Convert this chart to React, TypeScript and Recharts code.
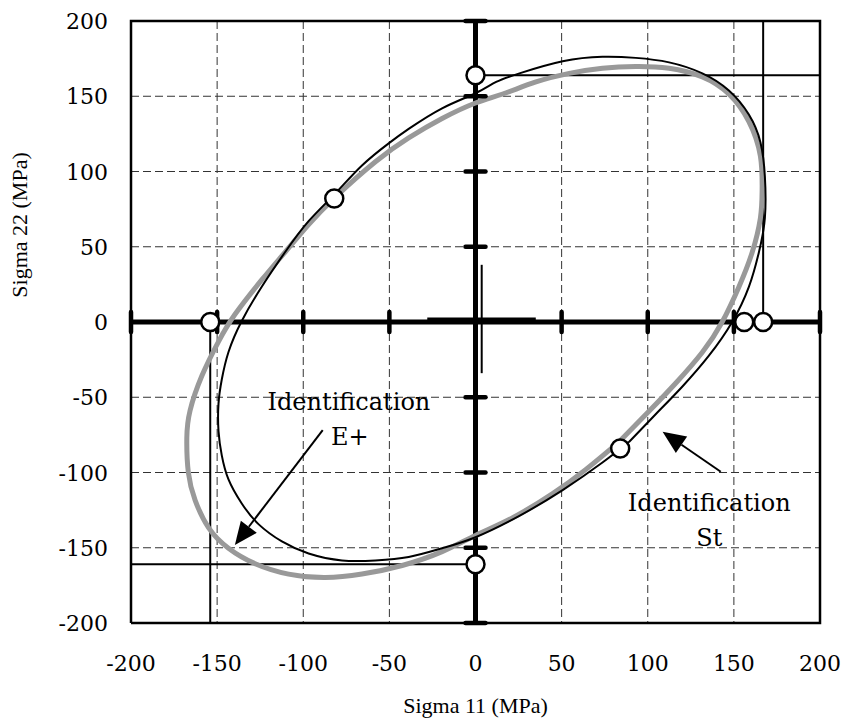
import React from 'react';
import { ComposedChart, Line, Scatter, XAxis, YAxis, CartesianGrid, ReferenceLine } from 'recharts';

const ticks = [-200, -150, -100, -50, 0, 50, 100, 150, 200];

// Identification St (black thin curve)
const stCurve = [
  { x: 89.2, y: -79.6 }, { x: 73.7, y: -93.4 }, { x: 50.6, y: -111.7 }, { x: 25.5, y: -128.8 },
  { x: 0, y: -143 }, { x: -19.4, y: -150.3 }, { x: -38.8, y: -156.1 }, { x: -58.1, y: -158.4 },
  { x: -77.5, y: -158.4 }, { x: -96.9, y: -153.8 }, { x: -112.4, y: -145.8 }, { x: -126, y: -134.3 },
  { x: -135.7, y: -120.6 }, { x: -143.4, y: -104.6 }, { x: -147.3, y: -88.6 }, { x: -149.2, y: -72.5 },
  { x: -149.2, y: -54.2 }, { x: -147.3, y: -38.2 }, { x: -143.4, y: -19.9 }, { x: -135.7, y: 0.7 },
  { x: -124, y: 23.6 }, { x: -110.5, y: 46.5 }, { x: -96.9, y: 67 }, { x: -81.4, y: 85.4 },
  { x: -65.9, y: 104 }, { x: -50.4, y: 118.7 }, { x: -38.8, y: 128.3 }, { x: -19.4, y: 142 },
  { x: 0, y: 152 }, { x: 12, y: 159.5 }, { x: 25.5, y: 165.2 }, { x: 50.6, y: 173.2 },
  { x: 73.7, y: 176.2 }, { x: 93, y: 175.5 }, { x: 112.4, y: 172.5 }, { x: 131.7, y: 165.2 },
  { x: 147.1, y: 153.8 }, { x: 158.7, y: 137.8 }, { x: 165.4, y: 119.5 }, { x: 168, y: 96.6 },
  { x: 168, y: 69.1 }, { x: 164.5, y: 46.2 }, { x: 158.7, y: 23.3 }, { x: 149, y: 0 },
  { x: 135.5, y: -22.4 }, { x: 120, y: -43 }, { x: 104.6, y: -61.3 }, { x: 89.2, y: -79.6 },
];

// Identification E+ (grey thick curve)
const ePlusCurve = [
  { x: 83.4, y: -79.6 }, { x: 64.1, y: -97.9 }, { x: 44.8, y: -114 }, { x: 21.6, y: -130 },
  { x: 0, y: -141.8 }, { x: -19.4, y: -152.6 }, { x: -42.6, y: -161.8 }, { x: -65.9, y: -167.5 },
  { x: -87.2, y: -169.8 }, { x: -108.5, y: -167.5 }, { x: -127.9, y: -160.6 }, { x: -143.4, y: -150.3 },
  { x: -155, y: -136.6 }, { x: -162.8, y: -118.3 }, { x: -166.7, y: -100 }, { x: -167.6, y: -77.1 },
  { x: -165.7, y: -58.8 }, { x: -158.9, y: -35.9 }, { x: -149.2, y: -13 }, { x: -139.5, y: 5.3 },
  { x: -124, y: 28.1 }, { x: -110.5, y: 46.5 }, { x: -96.9, y: 64.8 }, { x: -81.4, y: 83 },
  { x: -58.1, y: 106.5 }, { x: -38.8, y: 122.3 }, { x: -19.4, y: 135.2 }, { x: 0, y: 145.5 },
  { x: 15.8, y: 151.5 }, { x: 35.1, y: 159.5 }, { x: 54.4, y: 165.2 }, { x: 73.7, y: 168.6 },
  { x: 93, y: 169.8 }, { x: 112.4, y: 168.6 }, { x: 131.7, y: 162.9 }, { x: 147.1, y: 151.5 },
  { x: 158.7, y: 133.2 }, { x: 165.4, y: 110.3 }, { x: 166.4, y: 87.4 }, { x: 165.4, y: 69.1 },
  { x: 160.6, y: 46.2 }, { x: 152.9, y: 23.3 }, { x: 143.2, y: 0 }, { x: 131.7, y: -20.1 },
  { x: 116.2, y: -40.7 }, { x: 101, y: -59 }, { x: 83.4, y: -79.6 },
];

// Measured points (open circles)
const measured = [
  { x: 0, y: 164 }, { x: -82, y: 82 }, { x: -154, y: 0 }, { x: 156, y: 0 },
  { x: 167, y: 0 }, { x: 84, y: -84 }, { x: 0, y: -161 },
];

// Thin black limit lines
const limitTop = [{ x: 0, y: 164 }, { x: 200, y: 164 }];
const limitRight = [{ x: 167, y: 0 }, { x: 167, y: 200 }];
const limitLeft = [{ x: -154, y: 0 }, { x: -154, y: -200 }];
const limitBottom = [{ x: -200, y: -161 }, { x: 0, y: -161 }];

// Small cross near origin
const crossH = [{ x: -28, y: 1.7 }, { x: 35, y: 1.7 }];
const crossV = [{ x: 3.6, y: 38 }, { x: 3.6, y: -34 }];

// Frame and main axes
const frame = [
  { x: -200, y: -200 }, { x: 200, y: -200 }, { x: 200, y: 200 }, { x: -200, y: 200 }, { x: -200, y: -200 },
];
const axisV = [{ x: 0, y: -200 }, { x: 0, y: 200 }];
const axisH = [{ x: -200, y: 0 }, { x: 200, y: 0 }];
const markValues = [-200, -150, -100, -50, 50, 100, 150, 200];
const yAxisMarks = markValues.map((v) => ({ x: 0, y: v }));
const xAxisMarks = markValues.map((v) => ({ x: v, y: 0 }));

// Annotations
const annotations = [
  { x: -73.5, y: -53.2, text: 'Identification' },
  { x: -73, y: -76.4, text: 'E+' },
  { x: 135.7, y: -120.5, text: 'Identification' },
  { x: 135.7, y: -143.5, text: 'St' },
];
const arrowEPlus = [{ x: -88.7, y: -71.8 }, { x: -139.7, y: -148.2 }];
const arrowSt = [{ x: 142.4, y: -99.5 }, { x: 108.6, y: -72.9 }];

const FONT_TICK = 'DejaVu Serif';
const FONT_TITLE = 'Liberation Serif';

const XTick = (p: any) => (
  <text x={p.x} y={p.y + 48} textAnchor="middle" fontFamily={FONT_TICK} fontSize={22} fill="#000">
    {p.payload.value}
  </text>
);
const YTick = (p: any) => (
  <text x={p.x - 23} y={p.y + 8} textAnchor="end" fontFamily={FONT_TICK} fontSize={22} fill="#000">
    {p.payload.value}
  </text>
);

const ArrowShape = (p: any) => {
  const { x1, y1, x2, y2 } = p;
  const ang = Math.atan2(y2 - y1, x2 - x1);
  const L = 23;
  const W = 10;
  const bx = x2 - L * Math.cos(ang);
  const by = y2 - L * Math.sin(ang);
  const px = -Math.sin(ang) * W;
  const py = Math.cos(ang) * W;
  return (
    <g>
      <line x1={x1} y1={y1} x2={bx} y2={by} stroke="#000" strokeWidth={2} />
      <polygon points={`${x2},${y2} ${bx + px},${by + py} ${bx - px},${by - py}`} fill="#000" />
    </g>
  );
};

const CircleShape = (p: any) => (
  <circle cx={p.cx} cy={p.cy} r={9} fill="#fff" stroke="#000" strokeWidth={2.5} />
);
const HMark = (p: any) => (
  <line x1={p.cx - 10} y1={p.cy} x2={p.cx + 10} y2={p.cy} stroke="#000" strokeWidth={4.5} strokeLinecap="round" />
);
const VMark = (p: any) => (
  <line x1={p.cx} y1={p.cy - 10} x2={p.cx} y2={p.cy + 10} stroke="#000" strokeWidth={4.5} strokeLinecap="round" />
);
const TextShape = (p: any) => (
  <text x={p.cx} y={p.cy + 8} textAnchor="middle" fontFamily={FONT_TICK} fontSize={24} fill="#000">
    {p.payload.text}
  </text>
);

const seg = (data: any[], stroke: string, width: number, key: string) => (
  <Line
    key={key}
    data={data}
    dataKey="y"
    type="linear"
    stroke={stroke}
    strokeWidth={width}
    dot={false}
    activeDot={false}
    isAnimationActive={false}
    legendType="none"
  />
);

export default function App() {
  return (
    <div style={{ position: 'absolute', left: 0, top: 0, background: '#fff' }}>
      <ComposedChart width={849} height={724} margin={{ top: 21, right: 29, bottom: 0, left: 0 }}>
        <CartesianGrid stroke="#333" strokeDasharray="8 4" strokeWidth={1} />
        <XAxis
          type="number"
          dataKey="x"
          domain={[-200, 200]}
          ticks={ticks}
          height={101}
          axisLine={false}
          tickLine={false}
          tickSize={0}
          tickMargin={0}
          tick={<XTick />}
          interval={0}
          label={{
            content: (props: any) => {
              const vb = props.viewBox;
              return (
                <text x={vb.x + vb.width / 2} y={vb.y + 90} textAnchor="middle" fontFamily={FONT_TITLE} fontSize={22} fill="#000">
                  Sigma 11 (MPa)
                </text>
              );
            },
          }}
        />
        <YAxis
          type="number"
          dataKey="y"
          domain={[-200, 200]}
          ticks={ticks}
          width={131}
          axisLine={false}
          tickLine={false}
          tickSize={0}
          tickMargin={0}
          tick={<YTick />}
          interval={0}
          label={{
            content: (props: any) => {
              const vb = props.viewBox;
              const cx = vb.x + 27;
              const cy = vb.y + 204;
              return (
                <text x={cx} y={cy} transform={`rotate(-90 ${cx} ${cy})`} textAnchor="middle" fontFamily={FONT_TITLE} fontSize={22} fill="#000">
                  Sigma 22 (MPa)
                </text>
              );
            },
          }}
        />
        {seg(frame, '#000', 2.5, 'frame')}
        {seg(limitTop, '#000', 2, 'lt')}
        {seg(limitRight, '#000', 2, 'lr')}
        {seg(limitLeft, '#000', 2, 'll')}
        {seg(limitBottom, '#000', 2, 'lb')}
        {seg(axisV, '#000', 5, 'av')}
        {seg(axisH, '#000', 5, 'ah')}
        {seg(crossH, '#000', 4, 'ch')}
        {seg(crossV, '#000', 2, 'cv')}
        <Scatter data={yAxisMarks} dataKey="y" shape={HMark} isAnimationActive={false} legendType="none" />
        <Scatter data={xAxisMarks} dataKey="y" shape={VMark} isAnimationActive={false} legendType="none" />
        <Line data={ePlusCurve} dataKey="y" type="natural" stroke="#999" strokeWidth={5} dot={false} activeDot={false} isAnimationActive={false} />
        <Line data={stCurve} dataKey="y" type="natural" stroke="#000" strokeWidth={2} dot={false} activeDot={false} isAnimationActive={false} />
        <ReferenceLine segment={arrowEPlus} shape={ArrowShape} ifOverflow="visible" />
        <ReferenceLine segment={arrowSt} shape={ArrowShape} ifOverflow="visible" />
        <Scatter data={annotations} dataKey="y" shape={TextShape} isAnimationActive={false} legendType="none" />
        <Scatter data={measured} dataKey="y" shape={CircleShape} isAnimationActive={false} legendType="none" />
      </ComposedChart>
    </div>
  );
}
